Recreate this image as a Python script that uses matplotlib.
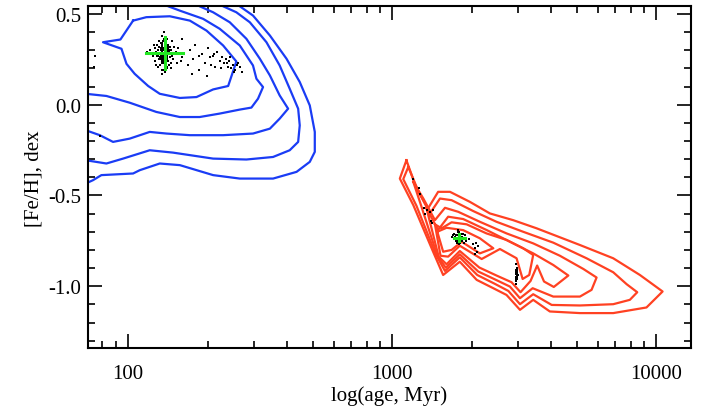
import numpy as np
import matplotlib
matplotlib.use('Agg')
import matplotlib.pyplot as plt
from matplotlib.ticker import LogLocator, FuncFormatter, NullFormatter, MultipleLocator

plt.rcParams['font.family'] = ['Liberation Serif', 'DejaVu Serif']
plt.rcParams['axes.unicode_minus'] = False

# ---- blue contours (log10 age [Myr], [Fe/H]) ----
blue1_la = [2.019, 2.069, 2.158, 2.234, 2.297, 2.360, 2.410, 2.379, 2.322, 2.259, 2.196, 2.120,
            2.076, 2.025, 1.994, 1.975, 1.905, 1.971, 2.019]
blue1_fe = [0.463, 0.482, 0.487, 0.463, 0.408, 0.326, 0.238, 0.103, 0.084, 0.042, 0.037, 0.060,
            0.103, 0.170, 0.225, 0.308, 0.344, 0.359, 0.463]

blue2_la = [1.84, 1.918, 2.006, 2.107, 2.196, 2.271, 2.347, 2.423, 2.467, 2.492, 2.511, 2.486,
            2.473, 2.423, 2.347, 2.284, 2.196, 2.152, 2.14]
blue2_fe = [0.060, 0.048, 0.011, -0.040, -0.068, -0.068, -0.049, -0.027, -0.016, 0.033, 0.097, 0.143,
            0.216, 0.326, 0.418, 0.473, 0.518, 0.542, 0.56]

blue3_la = [1.84, 1.893, 1.943, 2.006, 2.082, 2.145, 2.234, 2.360, 2.473, 2.537, 2.574, 2.606,
            2.574, 2.537, 2.499, 2.448, 2.385, 2.322, 2.271, 2.26]
blue3_fe = [-0.141, -0.168, -0.205, -0.187, -0.150, -0.159, -0.168, -0.168, -0.159, -0.132, -0.077, -0.022,
            0.051, 0.161, 0.253, 0.363, 0.454, 0.509, 0.542, 0.56]

blue4_la = [1.84, 1.918, 1.981, 2.082, 2.170, 2.322, 2.448, 2.549, 2.612, 2.644, 2.650, 2.644,
            2.612, 2.574, 2.524, 2.461, 2.410, 2.360, 2.35]
blue4_fe = [-0.306, -0.324, -0.297, -0.251, -0.264, -0.297, -0.302, -0.288, -0.251, -0.205, -0.114, -0.022,
            0.088, 0.216, 0.344, 0.454, 0.509, 0.542, 0.56]

blue5_la = [1.84, 1.867, 1.899, 2.019, 2.044, 2.120, 2.196, 2.322, 2.423, 2.549, 2.638, 2.688,
            2.707, 2.707, 2.688, 2.650, 2.600, 2.537, 2.473, 2.423, 2.41]
blue5_fe = [-0.434, -0.416, -0.388, -0.379, -0.361, -0.324, -0.333, -0.388, -0.407, -0.407, -0.370, -0.315,
            -0.260, -0.150, -0.004, 0.125, 0.253, 0.381, 0.491, 0.542, 0.56]

# ---- red contours ----
red1_la = [3.054, 3.029, 3.080, 3.155, 3.193, 3.256, 3.320, 3.383, 3.433, 3.484, 3.534, 3.597, 3.711,
           3.837, 3.963, 4.024, 3.938, 3.837, 3.711, 3.547, 3.458, 3.370, 3.294, 3.219, 3.174, 3.136,
           3.092, 3.054]
red1_fe = [-0.306, -0.407, -0.553, -0.810, -0.938, -0.865, -0.965, -1.011, -1.048, -1.130, -1.075, -1.139,
           -1.148, -1.148, -1.117, -1.029, -0.938, -0.846, -0.773, -0.681, -0.636, -0.599, -0.535, -0.480,
           -0.480, -0.571, -0.462, -0.306]

red2_la = [3.061, 3.042, 3.092, 3.165, 3.200, 3.256, 3.322, 3.389, 3.440, 3.484, 3.534, 3.604, 3.711,
           3.837, 3.900, 3.928, 3.888, 3.837, 3.736, 3.610, 3.496, 3.395, 3.307, 3.225, 3.181, 3.143,
           3.099, 3.061]
red2_fe = [-0.343, -0.410, -0.557, -0.824, -0.916, -0.841, -0.938, -0.987, -1.026, -1.099, -1.044, -1.103,
           -1.106, -1.099, -1.075, -1.033, -0.989, -0.923, -0.846, -0.760, -0.700, -0.645, -0.586, -0.526,
           -0.517, -0.599, -0.476, -0.343]

red3_la = [3.080, 3.111, 3.171, 3.203, 3.256, 3.326, 3.393, 3.446, 3.484, 3.532, 3.610, 3.711, 3.755,
           3.774, 3.724, 3.635, 3.534, 3.433, 3.332, 3.250, 3.200, 3.162, 3.118, 3.080]
red3_fe = [-0.425, -0.562, -0.832, -0.898, -0.824, -0.919, -0.965, -1.002, -1.066, -1.011, -1.057, -1.057,
           -1.020, -0.952, -0.905, -0.832, -0.764, -0.709, -0.645, -0.590, -0.568, -0.636, -0.517, -0.425]

red4_la = [3.130, 3.176, 3.206, 3.256, 3.330, 3.395, 3.452, 3.486, 3.524, 3.549, 3.575, 3.612, 3.667,
           3.610, 3.534, 3.446, 3.357, 3.269, 3.212, 3.174, 3.130]
red4_fe = [-0.571, -0.837, -0.879, -0.806, -0.897, -0.941, -0.978, -1.033, -0.971, -0.886, -0.974, -1.004,
           -0.941, -0.883, -0.819, -0.755, -0.690, -0.630, -0.617, -0.690, -0.571]

red5_la = [3.162, 3.183, 3.212, 3.256, 3.339, 3.408, 3.471, 3.494, 3.519, 3.534, 3.496, 3.433, 3.357,
           3.282, 3.225, 3.187, 3.162]
red5_fe = [-0.659, -0.832, -0.837, -0.777, -0.850, -0.795, -0.846, -0.960, -0.938, -0.828, -0.791, -0.745,
           -0.709, -0.659, -0.648, -0.681, -0.659]

red6_la = [3.171, 3.193, 3.225, 3.263, 3.332, 3.383, 3.332, 3.269, 3.206, 3.171]
red6_fe = [-0.700, -0.810, -0.800, -0.755, -0.819, -0.791, -0.736, -0.691, -0.678, -0.700]

# ---- stars (black dots) ----
young_age = [137, 139, 135, 141, 133, 143, 131, 138, 136, 140, 134, 142, 130, 144, 138, 136,
             129, 146, 132, 139, 137, 135, 141, 133, 145, 128, 147, 138, 140, 134, 136, 142,
             131, 139, 137, 143, 130, 148, 135, 126, 150, 138, 141, 133, 144, 136, 139, 132,
             127, 152, 134, 140, 137, 145, 129, 142, 135, 138, 124, 155, 121, 158, 118, 160,
             131, 147, 136, 143, 139, 134, 128, 149, 141, 137, 133, 146, 125, 153, 140, 135,
             134, 138, 141, 136, 132, 139, 143, 137, 135, 140, 133, 138, 136, 142, 131, 139,
             137, 134, 141, 135, 138, 144, 130, 136, 139, 133, 140, 137, 135, 142,
             168, 172, 176, 180, 185, 190, 195, 200, 205, 210, 214, 218, 222, 226, 230, 234,
             238, 242, 246, 250, 255, 260, 265, 270, 206, 212, 224, 236, 244, 252, 258, 185,
             199, 160, 175, 75, 74, 78]
young_feh = [0.28, 0.30, 0.26, 0.27, 0.31, 0.29, 0.25, 0.33, 0.23, 0.32, 0.29, 0.24, 0.30, 0.26, 0.21, 0.35,
             0.27, 0.30, 0.22, 0.25, 0.36, 0.32, 0.20, 0.34, 0.23, 0.29, 0.27, 0.31, 0.28, 0.19, 0.26, 0.33,
             0.35, 0.22, 0.24, 0.30, 0.21, 0.25, 0.38, 0.31, 0.28, 0.18, 0.36, 0.27, 0.32, 0.30, 0.34, 0.26,
             0.24, 0.29, 0.33, 0.21, 0.31, 0.20, 0.33, 0.28, 0.23, 0.26, 0.27, 0.31, 0.30, 0.24, 0.29, 0.26,
             0.28, 0.35, 0.19, 0.22, 0.37, 0.25, 0.22, 0.32, 0.30, 0.40, 0.27, 0.28, 0.33, 0.23, 0.25, 0.17,
             0.27, 0.25, 0.30, 0.31, 0.28, 0.27, 0.32, 0.26, 0.29, 0.24, 0.25, 0.29, 0.27, 0.28, 0.32, 0.31,
             0.30, 0.23, 0.26, 0.34, 0.22, 0.30, 0.27, 0.25, 0.33, 0.30, 0.29, 0.28, 0.24, 0.31,
             0.22, 0.30, 0.25, 0.33, 0.19, 0.28, 0.23, 0.31, 0.26, 0.27, 0.21, 0.29, 0.24, 0.26, 0.23, 0.25,
             0.21, 0.24, 0.20, 0.22, 0.19, 0.23, 0.21, 0.18, 0.22, 0.28, 0.20, 0.23, 0.26, 0.18, 0.22, 0.27,
             0.16, 0.36, 0.17, 0.27, 0.21, -0.17]

old_age = [1789, 1760, 1820, 1740, 1850, 1800, 1775, 1830, 1710, 1880, 1795, 1765, 1815, 1745, 1860, 1690,
           1900, 1780, 1810, 1750, 1840, 1720, 1870, 1805, 1770, 1825, 1735, 1790, 1950, 1700, 1755, 1845,
           2030, 2060, 2090, 2110, 2050, 2080,
           2950, 2965, 2940, 2975, 2955, 2960, 2945, 2970, 2950, 2980, 2935, 2962, 2948, 2968, 2955, 2940,
           2972, 2958, 2946, 2965, 2952, 2990,
           1202, 1265, 1279, 1349, 1390, 1429, 1409, 1318, 1330, 1415]
old_feh = [-0.73, -0.72, -0.74, -0.75, -0.71, -0.76, -0.70, -0.73, -0.74, -0.72, -0.77, -0.75, -0.71, -0.72, -0.74, -0.73,
           -0.75, -0.69, -0.76, -0.74, -0.73, -0.71, -0.76, -0.72, -0.74, -0.75, -0.73, -0.70, -0.74, -0.72, -0.76, -0.75,
           -0.77, -0.79, -0.81, -0.78, -0.82, -0.76,
           -0.88, -0.90, -0.91, -0.92, -0.93, -0.94, -0.95, -0.96, -0.97, -0.93, -0.95, -0.91, -0.92, -0.94, -0.96, -0.93,
           -0.95, -0.90, -0.97, -0.92, -0.99, -0.94,
           -0.41, -0.46, -0.49, -0.58, -0.59, -0.58, -0.64, -0.57, -0.60, -0.65]

# cluster means with error bars (age range, feh range)
mean_age = [137.7, 1789]
mean_feh = [0.284, -0.732]
age_lo = [116.7, 1714]
age_hi = [161.5, 1884]
feh_err = [0.089, 0.018]

BLUE = '#1a3cf5'
RED = '#ff4122'
GREEN = '#22e622'

fig = plt.figure(figsize=(7.13, 4.14), dpi=100)
ax = fig.add_axes([0.1234, 0.1558, 0.8453, 0.8266])

for la, fe in [(blue1_la, blue1_fe), (blue2_la, blue2_fe), (blue3_la, blue3_fe),
               (blue4_la, blue4_fe), (blue5_la, blue5_fe)]:
    ax.plot(10 ** np.array(la), fe, color=BLUE, lw=1.6)

for la, fe in [(red1_la, red1_fe), (red2_la, red2_fe), (red3_la, red3_fe),
               (red4_la, red4_fe), (red5_la, red5_fe), (red6_la, red6_fe)]:
    ax.plot(10 ** np.array(la), fe, color=RED, lw=1.6)

ax.plot(young_age, young_feh, 's', color='black', ms=1.9, mew=0)
ax.plot(old_age, old_feh, 's', color='black', ms=2.1, mew=0)

for i in range(len(mean_age)):
    ax.plot([age_lo[i], age_hi[i]], [mean_feh[i], mean_feh[i]], color=GREEN, lw=2.2)
    ax.plot([mean_age[i], mean_age[i]], [mean_feh[i] - feh_err[i], mean_feh[i] + feh_err[i]],
            color=GREEN, lw=2.2)

ax.set_xscale('log')
ax.set_xlim(70.5, 13500)
ax.set_ylim(-1.343, 0.542)

ax.xaxis.set_major_locator(LogLocator(base=10))
ax.xaxis.set_minor_locator(LogLocator(base=10, subs=np.arange(2, 10)))
ax.xaxis.set_major_formatter(FuncFormatter(lambda v, p: f'{v:g}'))
ax.xaxis.set_minor_formatter(NullFormatter())
ax.yaxis.set_major_locator(MultipleLocator(0.5))
ax.yaxis.set_minor_locator(MultipleLocator(0.1))
ax.yaxis.set_major_formatter(FuncFormatter(lambda v, p: f'{v:.1f}'))

ax.tick_params(which='both', direction='in', top=True, right=True, width=1.2, labelsize=15)
ax.tick_params(which='major', length=10)
ax.tick_params(which='minor', length=5)
ax.tick_params(axis='x', which='major', pad=11)
ax.tick_params(axis='y', which='major', pad=5)
for s in ax.spines.values():
    s.set_linewidth(1.5)

ax.set_xlabel('log(age, Myr)', fontsize=15, labelpad=2)
ax.set_ylabel('[Fe/H], dex', fontsize=15, labelpad=3)

fig.savefig('out.png', dpi=100)
